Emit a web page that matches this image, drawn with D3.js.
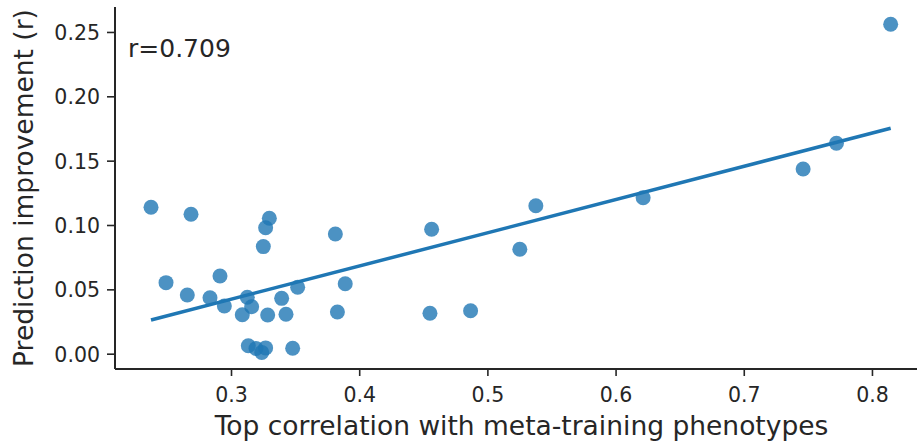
<!DOCTYPE html>
<html>
<head>
<meta charset="utf-8">
<script src="https://cdn.jsdelivr.net/npm/d3@7"></script>
<style>
  body { margin: 0; background: #fff; }
  svg { display: block; font-family: "DejaVu Sans", sans-serif; }
</style>
</head>
<body>
<svg width="917" height="441"></svg>
<script>
// top correlation with meta-training phenotypes (x) vs prediction improvement (y)
var topCorr = [
  0.2376, 0.2688, 0.3299, 0.3270, 0.3252, 0.2493, 0.2914, 0.2659, 0.2836,
  0.2948, 0.3127, 0.3161, 0.3088, 0.3286, 0.3395, 0.3429, 0.3520,
  0.3135, 0.3195, 0.3240, 0.3270, 0.3481,
  0.3814, 0.3891, 0.3830,
  0.4565, 0.5378, 0.5253, 0.4552, 0.4869,
  0.6215, 0.7463, 0.7723, 0.8146
];
var improvement = [
  0.1138, 0.1083, 0.1052, 0.0979, 0.0832, 0.0552, 0.0604, 0.0456, 0.0435,
  0.0371, 0.0438, 0.0365, 0.0303, 0.0301, 0.0430, 0.0306, 0.0516,
  0.0062, 0.0040, 0.0010, 0.0045, 0.0042,
  0.0930, 0.0544, 0.0324,
  0.0967, 0.1150, 0.0811, 0.0314, 0.0334,
  0.1212, 0.1435, 0.1635, 0.2560
];
var xTicks = [0.3, 0.4, 0.5, 0.6, 0.7, 0.8];
var yTicks = [0.00, 0.05, 0.10, 0.15, 0.20, 0.25];
var rText = "r=0.709";

var svg = d3.select('svg');
var ink = '#262626';
var blue = '#1f77b4';

var x = d3.scaleLinear().domain([0.2095, 0.8445]).range([115, 929]);
var y = d3.scaleLinear().domain([-0.0119, 0.2694]).range([369, 7]);

var pts = topCorr.map(function (v, i) { return [v, improvement[i]]; });

// least squares fit, like seaborn regplot
var mx = d3.mean(topCorr), my = d3.mean(improvement);
var sxy = d3.sum(pts, function (p) { return (p[0] - mx) * (p[1] - my); });
var sxx = d3.sum(pts, function (p) { return (p[0] - mx) * (p[0] - mx); });
var slope = sxy / sxx, icpt = my - slope * mx;
var xr = d3.extent(topCorr);

// points
svg.append('g')
  .selectAll('circle')
  .data(pts)
  .enter()
  .append('circle')
  .attr('cx', function (d) { return x(d[0]); })
  .attr('cy', function (d) { return y(d[1]); })
  .attr('r', 7.5)
  .attr('fill', blue)
  .attr('fill-opacity', 0.8);

// fit line
svg.append('line')
  .attr('x1', x(xr[0])).attr('y1', y(icpt + slope * xr[0]))
  .attr('x2', x(xr[1])).attr('y2', y(icpt + slope * xr[1]))
  .attr('stroke', blue)
  .attr('stroke-width', 3.5);

// axes
var xAxis = svg.append('g')
  .attr('transform', 'translate(0,369)')
  .call(d3.axisBottom(x).tickValues(xTicks).tickFormat(d3.format('.1f')).tickSize(7).tickPadding(6));
var yAxis = svg.append('g')
  .attr('transform', 'translate(115,0)')
  .call(d3.axisLeft(y).tickValues(yTicks).tickFormat(d3.format('.2f')).tickSize(8).tickPadding(7));

[xAxis, yAxis].forEach(function (g) {
  g.select('.domain').attr('stroke', ink).attr('stroke-width', 2);
  g.selectAll('.tick line').attr('stroke', ink).attr('stroke-width', 1.6);
  g.selectAll('.tick text')
    .attr('fill', ink)
    .style('font-size', '20.5px')
    .style('font-family', '"DejaVu Sans", sans-serif');
});
xAxis.selectAll('.tick text').attr('dy', null).attr('y', 33);
yAxis.selectAll('.tick text').attr('dy', '0.36em');
// remove the outer tick stubs
xAxis.select('.domain').attr('d', 'M115,0H929');
yAxis.select('.domain').attr('d', 'M0,7V369');

// labels
svg.append('text')
  .attr('x', 521.5).attr('y', 435)
  .attr('text-anchor', 'middle')
  .attr('fill', ink)
  .style('font-size', '26.5px')
  .text('Top correlation with meta-training phenotypes');

svg.append('text')
  .attr('transform', 'translate(33,188) rotate(-90)')
  .attr('text-anchor', 'middle')
  .attr('fill', ink)
  .style('font-size', '26.5px')
  .text('Prediction improvement (r)');

svg.append('text')
  .attr('x', 128).attr('y', 57)
  .attr('fill', ink)
  .style('font-size', '25px')
  .text(rText);
</script>
</body>
</html>
